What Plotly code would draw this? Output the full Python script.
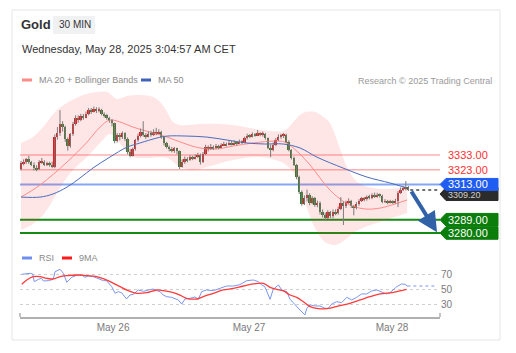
import plotly.graph_objects as go

# ---------------- data ----------------
first_open = 3323.5
close = [3327.5,3328.5,3330,3328,3326.5,3324,3323.2,3328,3328.6,3326.5,
         3327.5,3326,3325,3345,3348,3354,3352,3344,3339,3347,
         3354,3358,3357,3359.5,3358.5,3361,3363.5,3362.5,3364.5,3363,
         3363.8,3361,3360,3358,3356.5,3354.5,3342.5,3346.5,3345,3347.8,
         3344,3335,3332.5,3337,3343,3346,3348.5,3346.5,3345.5,3347.5,
         3346.8,3349,3347.8,3348.8,3345,3341,3338.5,3337,3336.2,3337.5,
         3335.5,3325,3328.5,3330.5,3329.5,3331.5,3330.5,3332,3333,3328,
         3333.5,3338.5,3337,3338.8,3337.5,3339,3338,3339.8,3340.5,3339.8,
         3341.2,3340.5,3341.5,3340.8,3342,3341.5,3344.5,3346.2,3345.5,3347,
         3346.5,3347.8,3346.8,3347.5,3344.5,3338,3336.5,3340,3343.5,3345.5,
         3346,3346.8,3342,3336.5,3331,3326.5,3318,3308,3300,3304,
         3306,3300.5,3303.5,3299,3300.5,3294,3292.5,3290.5,3294,3291.5,
         3294.5,3293.5,3296.5,3300.5,3298.5,3300.8,3301.8,3298,3297.2,3299.8,
         3302,3303.5,3302.8,3304.5,3303.8,3305.5,3305,3306,3305.2,3301.2,
         3301.6,3300.6,3301.4,3300.8,3302,3307.5,3309.5,3310.4,3311,3309.2]
high = [3329,3330,3331,3332.5,3329,3328,3326,3329.5,3331,3329.5,
        3328.5,3328.5,3328.5,3347,3352,3363.5,3356,3353,3345,3348,
        3355.5,3360,3360,3361,3361,3362.5,3365,3365,3366,3365.5,
        3365.5,3364.5,3362,3361,3359,3357.5,3355,3348,3348,3349,
        3348.5,3345,3337,3338,3344,3347.5,3351,3356,3348,3349,
        3349.5,3350.5,3351.5,3350.5,3349.5,3345.5,3342,3339.5,3338.5,3338.5,
        3338,3336,3330,3332,3331.5,3333,3332.5,3333.5,3334.5,3334,
        3335,3340,3339.5,3340.5,3339.5,3340.5,3340,3341,3342,3341.5,
        3342.5,3342.5,3343,3342.5,3343.5,3343,3345.5,3347.5,3347.2,3348.3,
        3348,3350,3348.5,3349,3348,3345,3340,3341.5,3344.5,3347,
        3347.5,3348,3347.5,3343,3337,3332,3327,3319,3309,3305.5,
        3309.5,3307,3305,3304.5,3302,3301.5,3296,3293.8,3295.5,3295,
        3296,3296,3298,3304.4,3301.5,3302,3303.5,3302.5,3299,3301,
        3303,3304.5,3304.5,3305.5,3306,3307,3307.5,3307.3,3306.8,3306,
        3303,3302.5,3302.5,3302.2,3303.3,3308.5,3311,3312,3315.3,3312]
low = [3322.5,3326,3327,3327,3325.5,3322.5,3322,3322.8,3327,3325.5,
       3325.5,3325,3324,3324,3343.5,3346,3349,3342,3336,3338,
       3346,3353,3355,3356,3357,3358,3360,3361,3362,3361.5,
       3362,3360,3358.5,3357,3355,3352.5,3341,3341.5,3343,3344,
       3342.5,3333.5,3331.5,3332,3336,3342,3345,3345.5,3344,3345,
       3345.5,3346,3346.5,3347,3344,3339.5,3337.5,3335.5,3334.8,3334.5,
       3333.5,3323.5,3324.5,3327,3328,3329,3329.5,3330,3331,3326.5,
       3327.5,3333,3335.5,3336.5,3336.5,3337,3337,3338,3339,3338.8,
       3339.5,3339.5,3340,3339.5,3340.5,3340.5,3341,3343.5,3344.5,3345,
       3345.5,3346,3345.8,3345.5,3343.5,3337,3331.6,3335.5,3339,3342.5,
       3344,3344.5,3341,3335.5,3330,3325.5,3316.5,3306.5,3298.5,3299,
       3301.5,3298.8,3299.5,3297.8,3297.5,3292.5,3290.5,3288.8,3289.5,3290,
       3290,3292,3292.5,3295.5,3285.4,3297,3299.8,3297,3292,3296,
       3298.5,3301,3301.5,3302,3302.8,3303,3303.8,3304,3304,3300.2,
       3300.3,3299.5,3300,3299.8,3300,3297.6,3306.5,3308.5,3309,3308.5]
opens = [first_open] + close[:-1]

# Bollinger bands / moving averages (candle index, price)
bb_up_x = [0,4.6,8.5,13.8,17.7,23.8,29.2,33.1,36.9,40.8,45.8,50.8,53.5,56.2,58.5,61.2,68.8,76.5,84.2,90,95.8,100.8,102.7,105.4,108.5,113.1,115.8,118.8,121.5,125.4,128.5,132.3,139.2,148.5]
bb_up_v = [3341.2,3345.2,3352,3363.6,3368.4,3373.8,3375.9,3375.9,3371.1,3373.1,3373.8,3372.5,3369.1,3362.3,3355.4,3353.4,3354.1,3354.1,3352.7,3350.7,3349.3,3349.3,3351.4,3356.8,3361.6,3362.3,3359.5,3354.8,3343.2,3324.8,3316,3311.9,3309.9,3311.2]
bb_lo_x = [0,4.6,8.5,12.3,16.2,20,25.4,30.4,34.2,36.9,40.8,43.1,49.6,56.2,61.2,66.2,71.5,81.5,91.9,97.7,101.5,105.4,109.2,113.1,116.9,120.8,124.6,128.5,132.3,138.1,148.5]
bb_lo_v = [3282,3286.1,3292.2,3302.4,3314,3322.8,3331.6,3341.2,3347.3,3343.2,3335,3331.6,3331,3331,3324.8,3322.8,3324.8,3329.6,3331.6,3329.6,3326.9,3319.4,3301,3283.3,3273.8,3271.8,3275.2,3280.6,3284,3287.4,3293.5]
ma20_x = [0,7.3,17.7,25.4,30.4,34.2,39.2,43.1,49.6,56.2,62.3,68.8,75.4,81.5,89.2,97.7,101.5,106.5,111.2,115,118.8,122.7,126.5,132.3,138.1,143.8,148.5]
ma20_v = [3304.4,3312.6,3328.2,3341.8,3352,3356.8,3354.8,3352,3348.6,3345.2,3341.2,3337.8,3337.1,3339.1,3341.2,3342.5,3341.8,3335,3326.2,3317.4,3309.2,3303.1,3299,3296.3,3296.9,3299.7,3302.4]
ma50_x = [0,7.3,12.3,17.7,22.7,27.7,34.2,40.8,45.8,52.3,56.2,63.8,71.5,79.2,86.9,93.8,100.8,107.3,113.8,123.8,133.1,141.9,148.5]
ma50_v = [3304.4,3304.4,3306.5,3311.2,3317.4,3324.2,3331.6,3338.4,3341.2,3344.6,3345.9,3345.9,3345.2,3343.2,3341.2,3340.5,3340.5,3337.8,3331.6,3324.2,3318,3314,3310.6]

# RSI panel
rsi_x = [0.3,3.5,4.5,5.1,6.7,7.9,8.6,10.5,12.4,13.1,15,16.3,17.6,19.5,21.4,23.3,24.6,25.9,27.8,29.7,
         31.7,32.9,34.9,36.2,37.4,38.7,40.6,41.9,43.2,45.1,47.1,49,50.9,52.2,53.5,54.7,56,57.9,59.2,60.5,
         61.8,63.1,65,66.9,68.2,69.5,71.4,74,76.5,79.1,81.7,84.2,86.8,89.4,91.3,92.6,93.8,95.1,95.8,97,
         99,100.3,102.2,103.5,105.4,107.3,109.2,109.9,111.2,113.1,115,116.9,118.2,119.5,121.4,123.3,125.3,127.2,129.1,131,
         132.9,134.9,136.8,138.7,140.6,141.9,143.2,144.5,146.4,147.7,148.6]
rsi_v = [70.9,72.2,71.3,61.1,64.2,65.6,62,62.4,64.2,74.4,77.6,72.2,60.2,66.9,69.6,70,66.9,68.7,67.8,64.7,
         62.4,62.4,54.4,45.6,47.8,46.4,38,43.3,44.2,50,48.2,50,51.3,49.1,47.8,43.3,41.1,40.2,38,36.7,
         31.3,38,38.9,40.7,37.6,47.8,50,49.1,52.2,55.3,55.3,57.1,62.4,63.3,61.1,56.7,54.4,42.4,37.6,50.9,
         56.7,50,47.8,37.6,30,23.3,16.7,25.6,30,28.7,28.7,25.6,25.6,31.3,34.4,33.1,40.2,36.7,40.2,44.7,
         44.7,48.7,50,47.8,44.7,46.4,50,54.4,58,57.6,55.3]
ma9_x = [0.3,2.2,4.7,7.3,9.9,12.4,15,17.6,22.1,25.3,29.1,32.3,34.9,38.1,41.3,44.5,48.3,52.2,54.7,58.6,
         61.8,63.7,67.6,70.1,74,77.8,81.7,85.5,89.4,93.2,95.8,98.3,100.9,103.5,106,108.6,111.2,113.7,117.6,120.1,
         122.7,126.5,130.4,134.2,138.1,143.2,148.3]
ma9_v = [57.6,63.3,67.8,67.8,65.6,64.7,67.8,69.1,70,69.1,67.8,64.2,60.2,54.4,49.1,45.6,46.4,50,49.1,46.4,
         42,38.9,38,41.1,45.6,50,52.2,55.3,58,58.9,53.6,50.9,48.7,43.3,40.2,34.4,27.8,25.6,25.1,26.9,
         29.1,32.2,36.7,41.1,44.7,46.9,50.9]

resistances = [3333.00, 3323.00]
pivot = 3313.00
supports = [3289.00, 3280.00]
target = 3280.00

day_ticks = [35.4, 87.7, 142.7]
day_labels = ["May 26", "May 27", "May 28"]
rsi_ticks = [30, 50, 70]

# ---------------- layout geometry ----------------
W, H = 516, 353
L, R, T, B = 20, 440, 88, 317
X_RANGE = [-0.385, 161.15]
Y_RANGE = [3271.8, 3378.6]
RSI_RANGE = [14, 83.3]
PX_PER_PT = 1.47

def px(x):
    return (x - L) / (R - L)

def py(y):
    return (B - y) / (B - T)

FONT = "Liberation Sans, Arial, sans-serif"
UP, DOWN = "#e3161b", "#2e7d2e"

fig = go.Figure()

# Bollinger band fill
fig.add_trace(go.Scatter(x=bb_lo_x, y=bb_lo_v, mode="lines", line=dict(width=0, shape="spline"),
                         hoverinfo="skip", showlegend=False, xaxis="x", yaxis="y"))
fig.add_trace(go.Scatter(x=bb_up_x, y=bb_up_v, mode="lines", line=dict(width=0, shape="spline"),
                         fill="tonexty", fillcolor="rgba(255,60,60,0.13)",
                         hoverinfo="skip", showlegend=False, xaxis="x", yaxis="y"))
fig.add_trace(go.Scatter(x=ma20_x, y=ma20_v, mode="lines", line=dict(width=1, color="#ff8a8a", shape="spline"),
                         showlegend=False, xaxis="x", yaxis="y"))
fig.add_trace(go.Scatter(x=ma50_x, y=ma50_v, mode="lines", line=dict(width=1, color="#4a6cbd", shape="spline"),
                         showlegend=False, xaxis="x", yaxis="y"))

# wicks
idx = list(range(len(close)))
wx, wy = [], []
for i in idx:
    wx += [i, i, None]
    wy += [low[i], high[i], None]
fig.add_trace(go.Scatter(x=wx, y=wy, mode="lines", line=dict(width=1, color="#7a7a7a"),
                         hoverinfo="skip", showlegend=False, xaxis="x", yaxis="y"))

# bodies
base = [min(o, c) for o, c in zip(opens, close)]
size = [max(abs(c - o), 0.35) for o, c in zip(opens, close)]
cols = [UP if c >= o else DOWN for o, c in zip(opens, close)]
fig.add_trace(go.Bar(x=idx, y=size, base=base, width=0.72, marker=dict(color=cols, line=dict(width=0)),
                     showlegend=False, xaxis="x", yaxis="y"))

# RSI
fig.add_trace(go.Scatter(x=rsi_x, y=rsi_v, mode="lines", line=dict(width=1, color="#7b96ee"),
                         showlegend=False, xaxis="x2", yaxis="y2"))
fig.add_trace(go.Scatter(x=[rsi_x[-1], X_RANGE[1] - 1], y=[rsi_v[-1], rsi_v[-1]], mode="lines",
                         line=dict(width=1, color="#7b96ee", dash="dot"),
                         showlegend=False, xaxis="x2", yaxis="y2"))
fig.add_trace(go.Scatter(x=ma9_x, y=ma9_v, mode="lines", line=dict(width=1.3, color="#ff3b3b", shape="spline"),
                         showlegend=False, xaxis="x2", yaxis="y2"))

shapes = []
annos = []

# card border
shapes.append(dict(type="rect", xref="paper", yref="paper", x0=px(12), x1=px(500), y0=py(340), y1=py(10),
                   line=dict(color="#e6e6e6", width=1), fillcolor="rgba(0,0,0,0)", layer="below"))
# "30 MIN" chip
shapes.append(dict(type="rect", xref="paper", yref="paper", x0=px(53), x1=px(95), y0=py(34), y1=py(16),
                   line=dict(width=0), fillcolor="#f0f1f3", layer="below"))

# level lines
for lv in resistances:
    shapes.append(dict(type="line", xref="paper", yref="y", x0=0, x1=1, y0=lv, y1=lv,
                       line=dict(color="#ffb0b0", width=1.5), layer="below"))
    annos.append(dict(xref="paper", yref="y", x=px(446), y=lv, text=f"{lv:.2f}", showarrow=False,
                      xanchor="left", yanchor="middle", font=dict(family=FONT, size=11, color="#ff3030")))
shapes.append(dict(type="line", xref="paper", yref="y", x0=0, x1=1, y0=pivot, y1=pivot,
                   line=dict(color="#86a6f2", width=2), layer="below"))
for lv in supports:
    shapes.append(dict(type="line", xref="paper", yref="y", x0=0, x1=1, y0=lv, y1=lv,
                       line=dict(color="#158a15", width=2), layer="below"))

# current price dotted line
last = close[-1]
shapes.append(dict(type="line", xref="x", yref="y", x0=len(close) - 0.3, x1=X_RANGE[1], y0=last, y1=last,
                   line=dict(color="#444444", width=1.5, dash="dot")))

def tag(center, color, half_px):
    h = half_px / PX_PER_PT
    x0, x1, x2 = px(440), px(446), px(498)
    return dict(type="path", xref="paper", yref="y",
                path=f"M {x0},{center} L {x1},{center + h} L {x2},{center + h} L {x2},{center - h} L {x1},{center - h} Z",
                fillcolor=color, line=dict(color=color, width=1), layer="above")

# current price tag (mostly hidden under the pivot tag)
last_c = last - 4 / PX_PER_PT
shapes.append(tag(last_c, "#2b2b2b", 6.5))
annos.append(dict(xref="paper", yref="y", x=px(446), y=last_c - 1 / PX_PER_PT, text=f"{last:.2f}",
                  showarrow=False, xanchor="left", yanchor="middle",
                  font=dict(family=FONT, size=9, color="#d0d0d0")))
shapes.append(tag(pivot, "#1f5cf2", 6))
annos.append(dict(xref="paper", yref="y", x=px(446), y=pivot, text=f"{pivot:.2f}", showarrow=False,
                  xanchor="left", yanchor="middle", font=dict(family=FONT, size=11, color="#ffffff")))
for lv in supports:
    shapes.append(tag(lv, "#0a7d0a", 6.3))
    annos.append(dict(xref="paper", yref="y", x=px(446), y=lv, text=f"{lv:.2f}", showarrow=False,
                      xanchor="left", yanchor="middle", font=dict(family=FONT, size=11, color="#ffffff")))

# forecast arrow
annos.append(dict(xref="x", yref="y", axref="x", ayref="y", x=160.0, y=target + 0.4,
                  ax=len(close) - 0.2, ay=last, text="", showarrow=True, arrowhead=2, arrowsize=1,
                  arrowwidth=4, arrowcolor="#3162a8"))

# RSI axis end caps
for xe in (0, 1):
    shapes.append(dict(type="line", xref="paper", yref="paper", x0=xe, x1=xe, y0=py(317), y1=py(313),
                       line=dict(color="#b0b0b0", width=1.5)))

# header texts
annos.append(dict(xref="paper", yref="paper", x=px(19), y=py(25), text="<b>Gold</b>", showarrow=False,
                  xanchor="left", yanchor="middle", font=dict(family=FONT, size=13, color="#333333")))
annos.append(dict(xref="paper", yref="paper", x=px(57), y=py(25), text="30 MIN", showarrow=False,
                  xanchor="left", yanchor="middle", font=dict(family=FONT, size=10, color="#333333")))
annos.append(dict(xref="paper", yref="paper", x=px(20), y=py(49), text="Wednesday, May 28, 2025 3:04:57 AM CET",
                  showarrow=False, xanchor="left", yanchor="middle",
                  font=dict(family=FONT, size=11, color="#333333")))

# legends
def legend_item(x_bar, y, color, label):
    shapes.append(dict(type="rect", xref="paper", yref="paper", x0=px(x_bar), x1=px(x_bar + 10),
                       y0=py(y + 1.5), y1=py(y - 1.5), line=dict(width=0), fillcolor=color))
    annos.append(dict(xref="paper", yref="paper", x=px(x_bar + 15), y=py(y), text=label, showarrow=False,
                      xanchor="left", yanchor="middle", font=dict(family=FONT, size=9, color="#8a8a8a")))

legend_item(22, 80, "#ff8a8a", "MA 20 + Bollinger Bands")
legend_item(141, 80, "#3f63b8", "MA 50")
legend_item(22, 258, "#6f8ff0", "RSI")
legend_item(62, 258, "#ff1a1a", "9MA")
annos.append(dict(xref="paper", yref="paper", x=px(494), y=py(81), text="Research © 2025 Trading Central",
                  showarrow=False, xanchor="right", yanchor="middle",
                  font=dict(family=FONT, size=9, color="#9a9a9a")))

dom_price = [py(245), 1]
dom_rsi = [0, py(265)]

fig.update_layout(
    width=W, height=H,
    margin=dict(l=L, r=W - R, t=T, b=H - B, pad=0),
    paper_bgcolor="white", plot_bgcolor="rgba(0,0,0,0)",
    showlegend=False, bargap=0,
    xaxis=dict(domain=[0, 1], range=X_RANGE, anchor="y", showgrid=False, zeroline=False,
               showticklabels=False, showline=False, ticks=""),
    yaxis=dict(domain=dom_price, range=Y_RANGE, showgrid=False, zeroline=False,
               showticklabels=False, showline=False, ticks=""),
    xaxis2=dict(domain=[0, 1], range=X_RANGE, anchor="y2", showgrid=False, zeroline=False,
                showline=True, linecolor="#b0b0b0", linewidth=2, ticks="",
                tickvals=day_ticks, ticktext=day_labels,
                tickfont=dict(family=FONT, size=10, color="#7a7a7a")),
    yaxis2=dict(domain=dom_rsi, range=RSI_RANGE, side="right", anchor="x2",
                tickvals=rsi_ticks, ticktext=[str(v) for v in rsi_ticks],
                showgrid=True, gridcolor="#cfcfcf", griddash="dot", gridwidth=1,
                zeroline=False, showline=False, ticks="",
                tickfont=dict(family=FONT, size=10, color="#7a7a7a")),
    shapes=shapes, annotations=annos,
)

fig.write_html("out.html")
